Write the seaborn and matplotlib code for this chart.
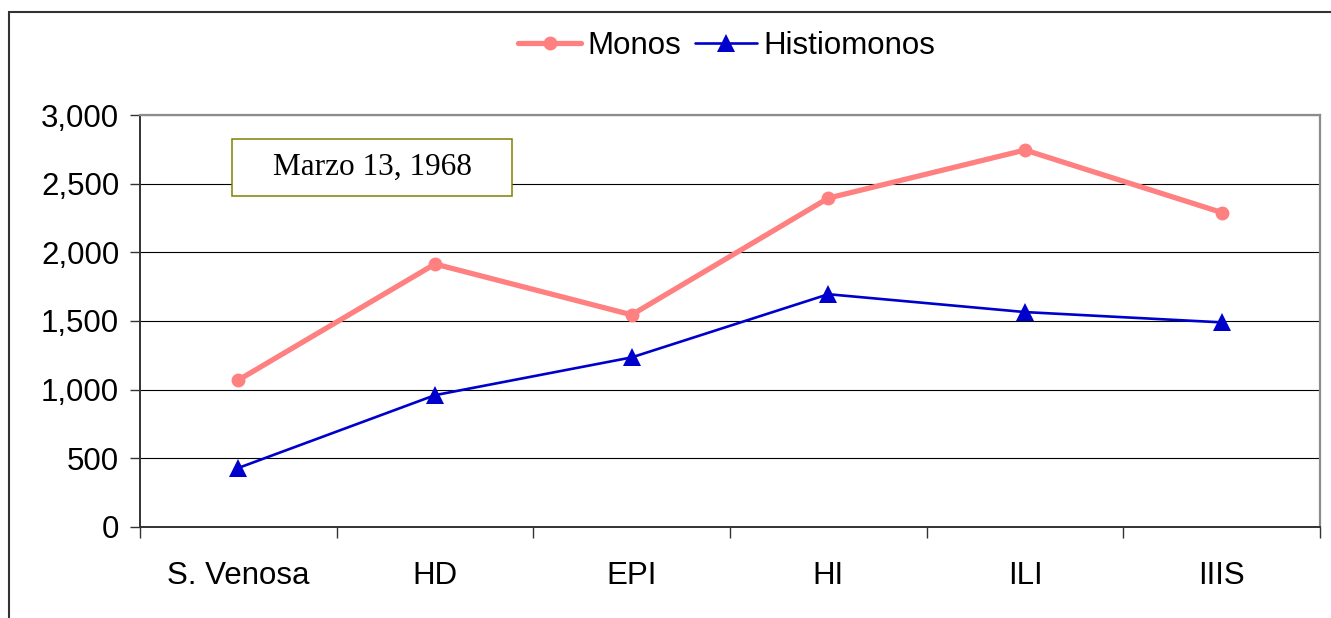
import pandas as pd
import matplotlib.pyplot as plt
import seaborn as sns
from matplotlib.patches import Rectangle
from matplotlib.ticker import FuncFormatter, FixedLocator

categorias = ['S. Venosa', 'HD', 'EPI', 'HI', 'ILI', 'IIIS']
monos = [1070, 1915, 1545, 2395, 2745, 2290]
histiomonos = [430, 960, 1235, 1695, 1565, 1490]
yticks = [0, 500, 1000, 1500, 2000, 2500, 3000]

sns.set_style('white')
plt.rcParams['font.family'] = ['Liberation Sans', 'DejaVu Sans']
plt.rcParams['text.color'] = 'black'
plt.rcParams['xtick.color'] = 'black'
plt.rcParams['ytick.color'] = 'black'

fig = plt.figure(figsize=(13.31, 6.18), dpi=100)
ax = fig.add_axes([140/1331, 91/618, 1180/1331, 412/618])

df_m = pd.DataFrame({'cat': categorias, 'val': monos})
df_h = pd.DataFrame({'cat': categorias, 'val': histiomonos})

sns.lineplot(data=df_m, x='cat', y='val', sort=False, ax=ax, color='#FF8080',
             linewidth=3.8, marker='o', markersize=10, markeredgewidth=0,
             label='Monos', zorder=4)
sns.lineplot(data=df_h, x='cat', y='val', sort=False, ax=ax, color='#0000CC',
             linewidth=1.9, marker='^', markersize=13, markeredgewidth=0,
             label='Histiomonos', zorder=5)

ax.set_xlim(-0.5, len(categorias) - 0.5)
ax.set_ylim(0, 3000)
ax.set_yticks(yticks)
ax.yaxis.set_major_formatter(FuncFormatter(lambda v, p: f'{int(v):,}'))
ax.set_xlabel('')
ax.set_ylabel('')

ax.xaxis.set_minor_locator(FixedLocator([i - 0.5 for i in range(len(categorias) + 1)]))
ax.tick_params(axis='x', which='major', length=0, pad=24.5, labelsize=22.5, labelcolor='black')
ax.tick_params(axis='x', which='minor', length=8, width=1, color='#333333', direction='out', bottom=True)
ax.tick_params(axis='y', which='major', length=7, width=1, color='#333333', direction='out',
               pad=8, labelsize=22.5, left=True, labelcolor='black')

ax.grid(axis='y', color='black', linewidth=0.8)
ax.set_axisbelow(True)
for s in ['top', 'right']:
    ax.spines[s].set_color('#8c8c8c')
    ax.spines[s].set_linewidth(1.6)
for s in ['left', 'bottom']:
    ax.spines[s].set_color('#333333')
    ax.spines[s].set_linewidth(1.4)

# cuadro con la fecha
ax.add_patch(Rectangle((0.078, 0.8034), 0.2373, 0.1383, transform=ax.transAxes,
                       facecolor='white', edgecolor='#808000', linewidth=1.1, zorder=6))
ax.text(0.078 + 0.2373/2, 0.8034 + 0.1383/2, 'Marzo 13, 1968', transform=ax.transAxes,
        ha='center', va='center', fontsize=22.5, family='Liberation Serif', color='black', zorder=7)

ax.legend(loc='center', bbox_to_anchor=(727/1331, 1 - 46/618), bbox_transform=fig.transFigure,
          ncol=2, frameon=False, fontsize=22.5, handlelength=2.0, handletextpad=0.2,
          columnspacing=0.45, borderaxespad=0)

# marco exterior del grafico
fig.patches.append(Rectangle((9/1331, -0.2), 1.2, 0.2 + 1 - 12/618, transform=fig.transFigure,
                             fill=False, edgecolor='#333333', linewidth=1.5))

fig.savefig('out.png', dpi=100)
